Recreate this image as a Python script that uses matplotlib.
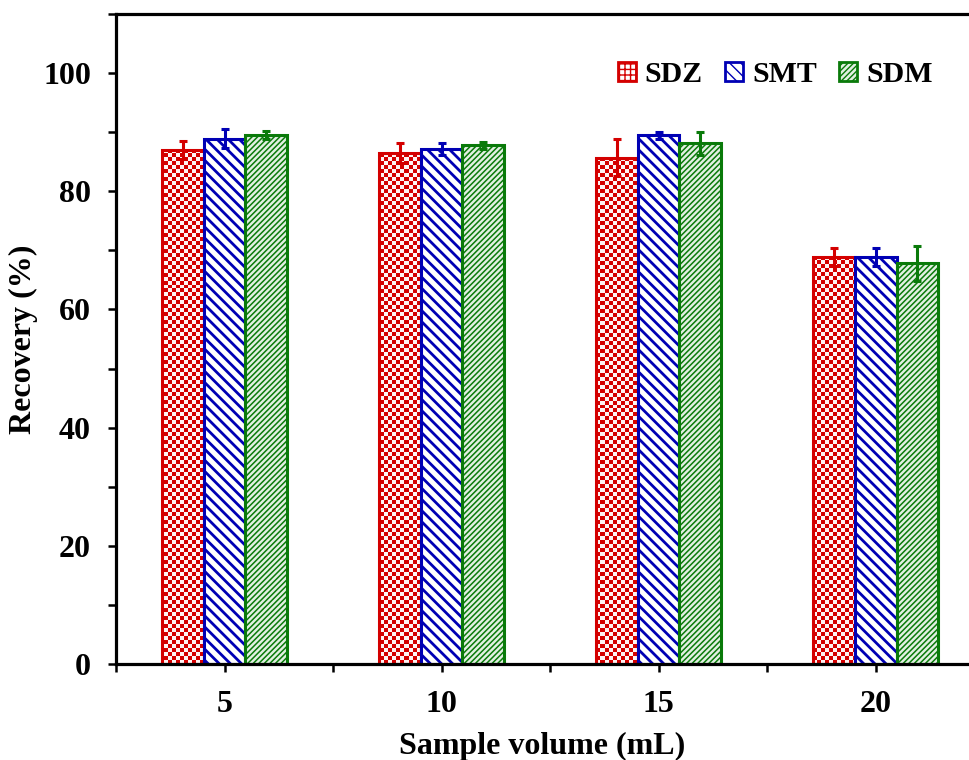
import numpy as np
import matplotlib
matplotlib.use("Agg")
import matplotlib.pyplot as plt
from matplotlib.patches import Patch
from matplotlib.colors import ListedColormap

plt.rcParams['font.family'] = ['Liberation Serif', 'DejaVu Serif']
plt.rcParams['font.weight'] = 'bold'

volumes = [5, 10, 15, 20]
series = ["SDZ", "SMT", "SDM"]
sdz = [87.0, 86.5, 85.7, 68.9]
smt = [88.9, 87.2, 89.5, 68.9]
sdm = [89.5, 87.8, 88.1, 67.8]
sdz_err = [1.5, 1.7, 3.1, 1.5]
smt_err = [1.6, 1.0, 0.6, 1.5]
sdm_err = [0.7, 0.6, 1.9, 3.0]

colors = ["#d40000", "#0000b4", "#0a7a0a"]
faces = ["none", "white", "#e2f0e2"]
hatches = [None, "\\\\\\", "//////"]
legend_hatches = ["+++", "\\\\\\", "//////"]
hatch_lw = [2.0, 2.0, 1.1]
values = [sdz, smt, sdm]
errors = [sdz_err, smt_err, sdm_err]

XLIM = (2.5, 22.15)
YLIM = (0, 110)

fig = plt.figure(figsize=(9.69, 7.6), dpi=100)
ax = fig.add_axes([0.1197, 0.1263, 0.8803, 0.8553])

# checkerboard texture (about 4 px cells) used as the fill of the SDZ bars
nx, ny = 213, 163
checker = (np.add.outer(np.arange(ny), np.arange(nx)) % 2).astype(float)
checker_cmap = ListedColormap(["#fff4f4", colors[0]])

width = 0.96
x = np.array(volumes, dtype=float)
handles = []
for k in range(3):
    pos = x + (k - 1) * width
    with plt.rc_context({'hatch.linewidth': hatch_lw[k], 'hatch.color': colors[k]}):
        bars = ax.bar(pos, values[k], width=width, facecolor=faces[k],
                      edgecolor=colors[k], linewidth=2.2, hatch=hatches[k], zorder=2)
        for b in bars:
            if hasattr(b, 'set_hatch_linewidth'):
                b.set_hatch_linewidth(hatch_lw[k])
            if k == 0:
                im = ax.imshow(checker, extent=[XLIM[0], XLIM[1], YLIM[0], YLIM[1]],
                               origin='lower', aspect='auto', interpolation='nearest',
                               cmap=checker_cmap, vmin=0, vmax=1, zorder=1.9)
                im.set_clip_path(b)
        ax.errorbar(pos, values[k], yerr=errors[k], fmt='none', ecolor=colors[k],
                    elinewidth=2.2, capsize=3, capthick=2.2, zorder=3)
        h = Patch(facecolor='white' if k == 0 else faces[k], edgecolor=colors[k],
                  linewidth=2.0, hatch=legend_hatches[k])
        if hasattr(h, 'set_hatch_linewidth'):
            h.set_hatch_linewidth(hatch_lw[k] if k else 2.6)
        handles.append(h)

ax.set_xlim(*XLIM)
ax.set_ylim(*YLIM)
ax.set_xticks(volumes)
ax.set_xticklabels([str(v) for v in volumes])
ax.set_xticks([2.5, 7.5, 12.5, 17.5], minor=True)
ax.set_yticks(np.arange(0, 101, 20))
ax.set_yticks(np.arange(10, 111, 20), minor=True)

for s in ['left', 'bottom', 'top']:
    ax.spines[s].set_linewidth(2.3)
ax.spines['right'].set_visible(False)

ax.tick_params(axis='both', which='both', direction='out', length=6, width=1.8,
               labelsize=23)
ax.tick_params(axis='x', which='major', pad=13)
ax.tick_params(axis='y', which='major', pad=12)
ax.tick_params(top=False, right=False, which='both')

ax.set_xlabel("Sample volume (mL)", fontsize=23, fontweight='bold', labelpad=9)
ax.set_ylabel("Recovery (%)", fontsize=23, fontweight='bold', labelpad=4)

ax.legend(handles, series, ncol=3, frameon=False, fontsize=21.5,
          loc='upper right', bbox_to_anchor=(0.982, 0.96),
          handlelength=0.6, handleheight=0.6, handletextpad=0.3,
          columnspacing=0.75, borderaxespad=0.3)

fig.savefig("out.png", dpi=100)
